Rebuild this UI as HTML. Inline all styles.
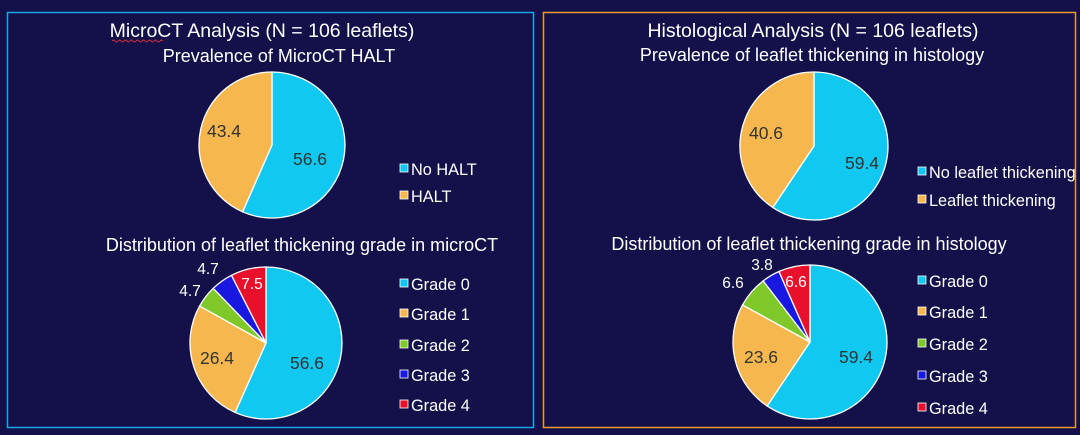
<!DOCTYPE html>
<html><head><meta charset="utf-8"><style>
body{margin:0;background:#14114a;width:1080px;height:435px;overflow:hidden}
svg{display:block}
text{font-family:"Liberation Sans",sans-serif}
</style></head><body>
<svg width="1080" height="435" id="s">
<rect x="0" y="0" width="1080" height="435" fill="#14114a"/>
<rect x="7.5" y="12.5" width="526" height="415" fill="none" stroke="#1aa8e8" stroke-width="1.5"/>
<rect x="543.5" y="12.5" width="532" height="415" fill="none" stroke="#e89a2a" stroke-width="1.5"/>
<g fill="#fff" text-anchor="middle">
<text x="262" y="37" font-size="19.5">MicroCT Analysis (N = 106 leaflets)</text>
<path d="M112 41 q1.5 -2 3 0 t3 0 t3 0 t3 0 t3 0 t3 0 t3 0 t3 0 t3 0 t3 0 t3 0 t3 0 t3 0 t3 0 t3 0 t3 0 t3 0" stroke="#e0303a" fill="none" stroke-width="1"/>
<text x="279" y="62" font-size="18">Prevalence of MicroCT HALT</text>
<text x="302" y="251" font-size="18">Distribution of leaflet thickening grade in microCT</text>
<text x="813" y="37" font-size="19.5">Histological Analysis (N = 106 leaflets)</text>
<text x="812" y="61" font-size="18">Prevalence of leaflet thickening in histology</text>
<text x="809" y="250" font-size="18">Distribution of leaflet thickening grade in histology</text>
</g>
<g id="pies"></g>
<g font-size="17.5" fill="#333">
<text x="310" y="165" text-anchor="middle">56.6</text>
<text x="224" y="137" text-anchor="middle">43.4</text>
<text x="307" y="369" text-anchor="middle">56.6</text>
<text x="217" y="364" text-anchor="middle">26.4</text>
<text x="862" y="169" text-anchor="middle">59.4</text>
<text x="766" y="139" text-anchor="middle">40.6</text>
<text x="856" y="363" text-anchor="middle">59.4</text>
<text x="761" y="363" text-anchor="middle">23.6</text>
</g>
<g font-size="15.5" fill="#fff" text-anchor="middle">
<text x="252" y="289">7.5</text>
<text x="208" y="274">4.7</text>
<text x="190" y="296">4.7</text>
<text x="796" y="287">6.6</text>
<text x="762" y="270">3.8</text>
<text x="733" y="288">6.6</text>
</g>
<g id="leg" font-size="16.3" fill="#fff"></g>
</svg>
<script>
var C=["#10c8f0","#f6b84e","#7ec82a","#1818e0","#e8102a"];
var pies=[[272,145,73,[56.6,43.4]],[266,343,76,[56.6,26.4,4.7,4.7,7.5]],[814,146,74,[59.4,40.6]],[810,342,77,[59.4,23.6,6.6,3.8,6.6]]];
var g=document.getElementById('pies'),h='';
pies.forEach(function(p){var a=0,t=p[3].reduce(function(x,y){return x+y},0);
p[3].forEach(function(v,i){var a2=a+v/t*2*Math.PI;
var x1=p[0]+p[2]*Math.sin(a),y1=p[1]-p[2]*Math.cos(a),x2=p[0]+p[2]*Math.sin(a2),y2=p[1]-p[2]*Math.cos(a2);
h+='<path d="M'+p[0]+' '+p[1]+' L'+x1+' '+y1+' A'+p[2]+' '+p[2]+' 0 '+(a2-a>Math.PI?1:0)+' 1 '+x2+' '+y2+' Z" fill="'+C[i]+'" stroke="#fff" stroke-width="1.3"/>';a=a2;});});
g.innerHTML=h;
var L=[[400,[169,196],["No HALT","HALT"]],[400,[284,314,345,375,405],["Grade 0","Grade 1","Grade 2","Grade 3","Grade 4"]],[918,[172,200],["No leaflet thickening","Leaflet thickening"]],[918,[281,312,344,376,408],["Grade 0","Grade 1","Grade 2","Grade 3","Grade 4"]]];
var s='';L.forEach(function(l){l[1].forEach(function(y,i){s+='<rect x="'+l[0]+'" y="'+(y-5)+'" width="8" height="8" fill="'+C[i]+'" stroke="#fff" stroke-width="0.8"/><text x="'+(l[0]+11)+'" y="'+(y+6)+'">'+l[2][i]+'</text>';});});
document.getElementById('leg').innerHTML=s;
</script>
</body></html>
